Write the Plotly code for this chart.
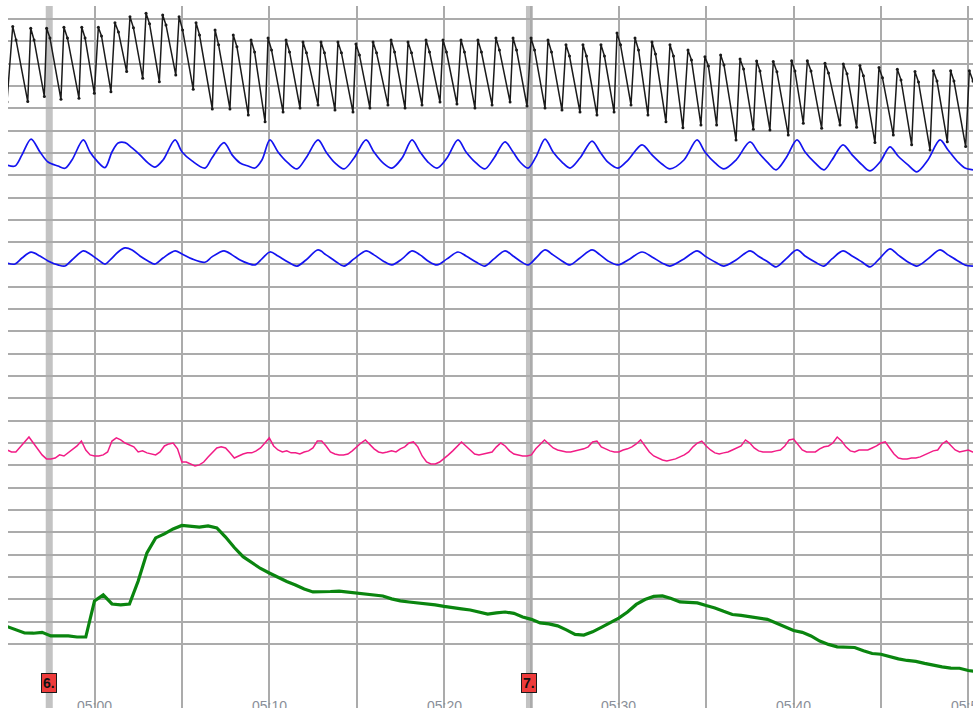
import numpy as np
import pandas as pd
import plotly.graph_objects as go

BASE = pd.Timestamp("2024-03-01 05:00:00")


def to_time(minutes):
    return BASE + pd.to_timedelta(np.asarray(minutes, dtype=float), unit="min")


# ---------------- data (time in minutes relative to 05:00, values in grid divisions) ----
tick_minutes = [0, 10, 20, 30, 40, 50]
tick_labels = ["05:00", "05:10", "05:20", "05:30", "05:40", "05:50"]

event_minutes = [-2.59, 24.89]
event_labels = ["6.", "7."]

black_t = [-5.01,
           -4.68, -4.49, -3.82, -3.65, -3.46, -2.87, -2.74, -2.55, -1.92,
           -1.75, -1.55, -0.89, -0.73, -0.54, -0.01, 0.22, 0.40, 0.94,
           1.17, 1.37, 1.84, 2.03, 2.23, 2.76, 2.95, 3.15, 3.71,
           3.90, 4.09, 4.65, 4.84, 5.04, 5.65, 5.81, 6.01, 6.74,
           6.90, 7.10, 7.75, 7.94, 8.15, 8.80, 8.96, 9.16, 9.76,
           9.93, 10.13, 10.79, 10.96, 11.16, 11.76, 11.93, 12.13, 12.79,
           12.96, 13.16, 13.76, 13.93, 14.13, 14.79, 14.96, 15.16, 15.76,
           15.94, 16.14, 16.79, 16.97, 17.17, 17.77, 17.94, 18.14, 18.74,
           18.97, 19.17, 19.77, 19.94, 20.14, 20.74, 20.97, 21.17, 21.77,
           21.94, 22.14, 22.75, 22.97, 23.17, 23.78, 23.95, 24.15, 24.75,
           24.98, 25.18, 25.78, 25.95, 26.15, 26.75, 26.98, 27.18, 27.78,
           27.95, 28.15, 28.75, 28.98, 29.18, 29.73, 29.90, 30.10, 30.70,
           30.93, 31.13, 31.67, 31.90, 32.10, 32.70, 32.93, 33.13, 33.67,
           33.96, 34.16, 34.70, 34.93, 35.13, 35.60, 35.83, 36.02, 36.71,
           36.94, 37.14, 37.70, 37.89, 38.08, 38.65, 38.84, 39.05, 39.70,
           39.89, 40.08, 40.56, 40.79, 41.00, 41.61, 41.80, 42.00, 42.66,
           42.85, 43.06, 43.61, 43.80, 44.00, 44.66, 44.89, 45.09, 45.71,
           45.94, 46.15, 46.76, 46.95, 47.15, 47.81, 48.00, 48.21, 48.80,
           48.99, 49.18, 49.85, 50.06, 50.27, 50.96]
black_v = [24.28,
           27.66, 27.06, 24.30, 27.58, 27.06, 24.52, 27.58, 27.15, 24.40,
           27.63, 27.15, 24.45, 27.63, 27.15, 24.67, 27.63, 27.24, 24.74,
           27.83, 27.42, 25.64, 28.10, 27.60, 25.34, 28.26, 27.78, 25.19,
           28.18, 27.73, 25.49, 28.10, 27.51, 24.85, 27.83, 27.28, 23.97,
           27.51, 26.84, 23.97, 27.28, 26.75, 23.70, 27.06, 26.52, 23.39,
           27.15, 26.61, 23.83, 27.06, 26.52, 24.01, 26.97, 26.48, 24.15,
           26.97, 26.48, 23.92, 26.97, 26.48, 23.83, 26.88, 26.39, 24.01,
           26.97, 26.48, 24.15, 27.06, 26.52, 24.01, 26.97, 26.48, 24.15,
           27.06, 26.52, 24.28, 27.06, 26.52, 24.19, 27.06, 26.52, 24.01,
           27.06, 26.52, 24.15, 27.15, 26.61, 24.28, 27.15, 26.61, 24.10,
           27.15, 26.61, 24.01, 27.06, 26.52, 23.92, 26.84, 26.34, 23.83,
           26.84, 26.34, 23.70, 26.84, 26.34, 23.83, 27.37, 26.84, 24.15,
           27.15, 26.61, 23.70, 26.97, 26.43, 23.39, 26.84, 26.34, 23.12,
           26.61, 26.16, 23.25, 26.31, 25.89, 23.25, 26.39, 25.94, 22.58,
           26.21, 25.76, 23.06, 26.12, 25.67, 23.03, 26.09, 25.63, 22.80,
           26.13, 25.67, 23.33, 26.13, 25.67, 23.10, 26.02, 25.58, 23.25,
           25.98, 25.54, 23.15, 25.91, 25.45, 22.46, 25.82, 25.36, 22.80,
           25.75, 25.27, 22.36, 25.64, 25.18, 22.13, 25.68, 25.22, 22.50,
           25.68, 25.22, 22.28, 25.68, 25.22, 23.48]

blue_t = [-5.01, -4.55, -4.15, -3.63, -3.12, -2.66, -2.09, -1.69, -1.29, -0.64,
          -0.26, 0.14, 0.60, 1.00, 1.35, 1.75, 2.15, 2.60, 3.06, 3.46,
          3.92, 4.61, 5.01, 5.58, 6.32, 6.72, 7.41, 7.87, 8.33, 8.78,
          9.18, 9.58, 10.04, 10.50, 11.07, 11.59, 12.10, 12.79, 13.25, 13.76,
          14.28, 14.85, 15.54, 15.99, 16.51, 17.02, 17.60, 18.17, 18.63, 19.08,
          19.60, 20.17, 20.80, 21.26, 21.83, 22.34, 22.86, 23.49, 23.95, 24.35,
          24.81, 25.26, 25.78, 26.24, 26.75, 27.21, 27.78, 28.47, 28.93, 29.38,
          29.96, 30.53, 31.33, 31.90, 32.47, 32.93, 33.73, 34.48, 34.93, 35.51,
          36.02, 36.71, 37.51, 37.97, 38.54, 39.00, 39.57, 40.20, 40.66, 41.23,
          41.74, 42.20, 42.83, 43.35, 43.92, 44.38, 44.95, 45.52, 45.98, 46.55,
          47.06, 47.69, 48.38, 48.84, 49.41, 49.81, 50.27]
blue_upper_v = [21.46, 21.41, 21.91, 22.62, 22.04, 21.59, 21.41, 21.31, 21.68, 22.58,
                22.04, 21.64, 21.34, 22.04, 22.44, 22.46, 22.22, 21.91, 21.55, 21.36,
                21.68, 22.58, 22.04, 21.64, 21.32, 21.77, 22.46, 21.91, 21.55, 21.41,
                21.32, 21.68, 22.58, 22.04, 21.55, 21.28, 21.77, 22.58, 22.04, 21.55,
                21.28, 21.77, 22.58, 22.04, 21.55, 21.32, 21.77, 22.58, 22.04, 21.59,
                21.32, 21.77, 22.58, 22.04, 21.55, 21.28, 21.77, 22.49, 22.04, 21.59,
                21.32, 21.82, 22.62, 22.04, 21.59, 21.32, 21.77, 22.53, 22.04, 21.59,
                21.32, 21.68, 22.36, 21.91, 21.50, 21.28, 21.68, 22.58, 22.04, 21.55,
                21.28, 21.68, 22.49, 22.04, 21.55, 21.24, 21.77, 22.58, 22.04, 21.55,
                21.24, 21.68, 22.36, 21.91, 21.46, 21.19, 21.59, 22.27, 21.86, 21.46,
                21.15, 21.68, 22.58, 22.13, 21.59, 21.32, 21.24]
blue_lower_v = [17.06, 17.02, 17.29, 17.55, 17.38, 17.16, 16.98, 16.93, 17.20, 17.61,
                17.47, 17.25, 17.02, 17.29, 17.56, 17.74, 17.65, 17.38, 17.16, 17.02,
                17.29, 17.61, 17.47, 17.25, 17.10, 17.34, 17.61, 17.43, 17.20, 17.05,
                16.98, 17.25, 17.56, 17.38, 17.11, 16.93, 17.20, 17.65, 17.43, 17.16,
                16.93, 17.25, 17.61, 17.43, 17.16, 16.98, 17.25, 17.61, 17.43, 17.16,
                16.98, 17.25, 17.56, 17.38, 17.11, 16.93, 17.25, 17.61, 17.38, 17.16,
                16.98, 17.29, 17.65, 17.43, 17.16, 16.98, 17.29, 17.65, 17.43, 17.16,
                16.98, 17.20, 17.56, 17.34, 17.07, 16.93, 17.25, 17.61, 17.38, 17.11,
                16.93, 17.20, 17.61, 17.38, 17.11, 16.89, 17.25, 17.65, 17.38, 17.11,
                16.93, 17.25, 17.61, 17.38, 17.11, 16.89, 17.29, 17.70, 17.43, 17.11,
                16.93, 17.25, 17.65, 17.43, 17.16, 16.98, 16.93]

pink_start, pink_step = -5.0, 0.25
pink_v = [8.69, 8.60, 8.60, 8.83, 9.09, 9.27, 9.00, 8.74, 8.47, 8.29,
          8.29, 8.33, 8.47, 8.42, 8.56, 8.69, 8.87, 9.09, 8.69, 8.47,
          8.42, 8.42, 8.47, 8.60, 9.09, 9.23, 9.14, 9.00, 8.92, 8.83,
          8.60, 8.65, 8.56, 8.51, 8.47, 8.60, 8.87, 8.96, 9.00, 8.74,
          8.15, 8.15, 8.06, 7.97, 8.02, 8.15, 8.38, 8.60, 8.78, 8.83,
          8.78, 8.56, 8.33, 8.42, 8.51, 8.56, 8.56, 8.65, 8.78, 9.00,
          9.23, 8.87, 8.69, 8.60, 8.65, 8.56, 8.56, 8.51, 8.60, 8.65,
          8.78, 9.09, 9.09, 8.87, 8.60, 8.51, 8.47, 8.47, 8.51, 8.65,
          8.83, 9.00, 9.14, 8.92, 8.74, 8.60, 8.56, 8.60, 8.65, 8.60,
          8.74, 8.83, 9.00, 9.05, 8.83, 8.42, 8.15, 8.06, 8.06, 8.15,
          8.29, 8.47, 8.65, 8.87, 9.05, 8.87, 8.69, 8.51, 8.47, 8.51,
          8.56, 8.60, 8.83, 9.00, 8.87, 8.65, 8.51, 8.47, 8.42, 8.42,
          8.47, 8.74, 8.96, 9.14, 8.96, 8.78, 8.69, 8.65, 8.60, 8.60,
          8.65, 8.69, 8.74, 8.83, 9.05, 9.09, 8.83, 8.74, 8.65, 8.60,
          8.60, 8.69, 8.74, 8.83, 8.96, 9.14, 8.87, 8.60, 8.42, 8.33,
          8.24, 8.20, 8.24, 8.29, 8.38, 8.47, 8.60, 8.83, 9.00, 9.09,
          8.87, 8.69, 8.56, 8.51, 8.56, 8.60, 8.69, 8.78, 8.87, 9.14,
          9.00, 8.78, 8.65, 8.60, 8.60, 8.60, 8.65, 8.69, 8.87, 9.14,
          9.18, 8.92, 8.69, 8.60, 8.60, 8.60, 8.74, 8.83, 8.87, 9.00,
          9.27, 9.09, 8.83, 8.65, 8.60, 8.69, 8.69, 8.69, 8.78, 8.87,
          9.00, 9.05, 8.78, 8.51, 8.33, 8.29, 8.29, 8.33, 8.33, 8.38,
          8.47, 8.56, 8.65, 8.69, 8.96, 9.09, 8.87, 8.69, 8.60, 8.65,
          8.69, 8.60, 8.60]

green_start, green_step = -5.0, 0.5
green_v = [0.78, 0.65, 0.49, 0.48, 0.52, 0.36, 0.36, 0.36, 0.31, 0.31,
           1.93, 2.20, 1.79, 1.75, 1.79, 2.82, 4.08, 4.75, 4.93, 5.15,
           5.31, 5.26, 5.23, 5.29, 5.20, 4.79, 4.32, 3.91, 3.65, 3.38,
           3.18, 2.98, 2.80, 2.64, 2.46, 2.33, 2.33, 2.35, 2.37, 2.33,
           2.28, 2.26, 2.22, 2.15, 2.02, 1.93, 1.88, 1.84, 1.79, 1.75,
           1.68, 1.64, 1.57, 1.52, 1.43, 1.34, 1.39, 1.43, 1.37, 1.21,
           1.10, 0.94, 0.90, 0.81, 0.63, 0.43, 0.40, 0.54, 0.74, 0.96,
           1.16, 1.43, 1.77, 1.99, 2.13, 2.15, 2.04, 1.88, 1.86, 1.84,
           1.72, 1.61, 1.46, 1.32, 1.28, 1.21, 1.16, 1.10, 0.94, 0.76,
           0.60, 0.52, 0.36, 0.13, -0.02, -0.13, -0.13, -0.16, -0.31, -0.43,
           -0.46, -0.58, -0.67, -0.74, -0.78, -0.87, -0.96, -1.03, -1.08, -1.09,
           -1.19, -1.25]

grid_rows = list(range(0, 29))

# ---------------- figure ----------------
pink_t = pink_start + pink_step * np.arange(len(pink_v))
green_t = green_start + green_step * np.arange(len(green_v))

fig = go.Figure()

fig.add_trace(go.Scatter(x=to_time(green_t), y=green_v, mode="lines",
                         line=dict(color="#0a850f", width=3.2), hoverinfo="skip"))
fig.add_trace(go.Scatter(x=to_time(pink_t), y=pink_v, mode="lines",
                         line=dict(color="#f21c86", width=1.5), hoverinfo="skip"))
fig.add_trace(go.Scatter(x=to_time(blue_t), y=blue_lower_v, mode="lines",
                         line=dict(color="#1414f0", width=1.7, shape="spline", smoothing=0.9),
                         hoverinfo="skip"))
fig.add_trace(go.Scatter(x=to_time(blue_t), y=blue_upper_v, mode="lines",
                         line=dict(color="#1414f0", width=1.7, shape="spline", smoothing=0.9),
                         hoverinfo="skip"))
fig.add_trace(go.Scatter(x=to_time(black_t), y=black_v, mode="lines+markers",
                         line=dict(color="#1a1a1a", width=1.5),
                         marker=dict(size=3, color="#1a1a1a"), hoverinfo="skip"))

for m in event_minutes:
    fig.add_vline(x=to_time([m])[0], line_width=7, line_color="#c3c3c3", layer="below")

for m, lab in zip(event_minutes, event_labels):
    fig.add_annotation(x=to_time([m])[0], y=-1.77, xref="x", yref="y",
                       text="<b>" + lab + "</b>", showarrow=False,
                       font=dict(family="Arial, Liberation Sans", size=14, color="#111111"),
                       bgcolor="#ee3b3b", bordercolor="#1a1a1a", borderwidth=1, borderpad=1,
                       xanchor="center", yanchor="middle")

for m, lab in zip(tick_minutes, tick_labels):
    fig.add_annotation(x=to_time([m])[0], y=-2.35, xref="x", yref="y",
                       text=lab, showarrow=False,
                       font=dict(family="Arial, Liberation Sans", size=14, color="#8a8f99"),
                       xanchor="center", yanchor="top")

x_left = -4.95
x_right = 50.27
fig.update_layout(
    width=973, height=708,
    margin=dict(l=8, r=0, t=6, b=0),
    paper_bgcolor="white", plot_bgcolor="white",
    showlegend=False,
    xaxis=dict(type="date", range=[to_time([x_left])[0], to_time([x_right])[0]],
               tick0=BASE, dtick=5 * 60 * 1000, showgrid=True, gridcolor="#ababab",
               gridwidth=1.6, showticklabels=False, zeroline=False, showline=False,
               ticks=""),
    yaxis=dict(range=[-2.87, 28.58], tickmode="array", tickvals=grid_rows,
               showgrid=True, gridcolor="#ababab", gridwidth=1.6, showticklabels=False,
               zeroline=False, showline=False, ticks=""),
)

fig.write_html("out.html")
